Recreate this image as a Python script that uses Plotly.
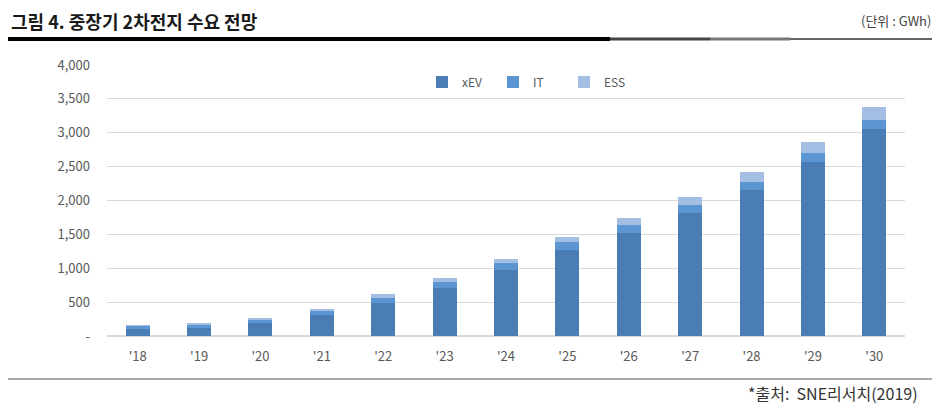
import plotly.graph_objects as go

years = ["'18", "'19", "'20", "'21", "'22", "'23", "'24", "'25", "'26", "'27", "'28", "'29", "'30"]
xev = [100, 120, 190, 305, 483, 704, 974, 1269, 1525, 1811, 2155, 2573, 3050]
it = [48, 50, 55, 60, 74, 89, 98, 123, 113, 123, 123, 124, 145]
ess = [14, 17, 25, 30, 59, 59, 64, 74, 99, 123, 143, 162, 190]
y_ticks = [0, 500, 1000, 1500, 2000, 2500, 3000, 3500, 4000]
y_tick_text = ["-", "500", "1,000", "1,500", "2,000", "2,500", "3,000", "3,500", "4,000"]

# page body has an 8px margin; figure drawn at (8,8)
OFF = 8
W, H = 940 - OFF, 405 - OFF
ML, MR, MT, MB = 107 - OFF, 35, 65 - OFF, 69
PW, PH = W - ML - MR, H - MT - MB

def px(x):
    # reference window pixel -> paper coordinate
    return (x - OFF - ML) / PW

def py(y):
    return (H - MB - (y - OFF)) / PH

FONT = "Noto Sans CJK KR"

fig = go.Figure()
fig.add_bar(x=years, y=xev, name="xEV", marker=dict(color="#4a7db4", line=dict(width=0)))
fig.add_bar(x=years, y=it, name="IT", marker=dict(color="#5b95d2", line=dict(width=0)))
fig.add_bar(x=years, y=ess, name="ESS", marker=dict(color="#a3bde3", line=dict(width=0)))

fig.update_layout(
    width=W, height=H,
    margin=dict(l=ML, r=MR, t=MT, b=MB),
    barmode="stack", bargap=0.61,
    plot_bgcolor="white", paper_bgcolor="white",
    font=dict(family=FONT, size=12, color="#595959"),
    showlegend=True,
    legend=dict(orientation="h", x=px(422), y=py(82), xanchor="left", yanchor="middle",
                font=dict(size=12, color="#595959"), itemwidth=30, entrywidth=26,
                bgcolor="rgba(0,0,0,0)", traceorder="normal"),
    xaxis=dict(showgrid=False, showline=False, ticks="", ticklabelstandoff=11,
               tickfont=dict(size=13, color="#595959")),
    yaxis=dict(range=[0, 4000], tickvals=y_ticks, ticktext=y_tick_text, showgrid=True,
               gridcolor="#d9d9d9", gridwidth=1, zeroline=True, zerolinecolor="#d9d9d9",
               showline=False, ticks="", ticklabelstandoff=16, tickfont=dict(size=13, color="#595959")),
)

fig.add_annotation(text="<b>그림 4. 중장기 2차전지 수요 전망</b>", xref="paper", yref="paper",
                   x=px(9), y=py(21), xanchor="left", yanchor="middle", showarrow=False,
                   font=dict(family=FONT, size=18, color="#1a1a1a"))
fig.add_annotation(text="(단위 : GWh)", xref="paper", yref="paper",
                   x=px(933), y=py(20), xanchor="right", yanchor="middle", showarrow=False,
                   font=dict(family=FONT, size=13, color="#444444"))
fig.add_annotation(text="*출처:  SNE리서치(2019)", xref="paper", yref="paper",
                   x=px(920), y=py(393), xanchor="right", yanchor="middle", showarrow=False,
                   font=dict(family=FONT, size=16, color="#333333"))

# header rule
fig.add_shape(type="rect", xref="paper", yref="paper", x0=px(8), x1=px(610), y0=py(37), y1=py(41),
              fillcolor="#000000", line=dict(width=0))
fig.add_shape(type="rect", xref="paper", yref="paper", x0=px(610), x1=px(710), y0=py(37.5), y1=py(40.5),
              fillcolor="#444444", line=dict(width=0))
fig.add_shape(type="rect", xref="paper", yref="paper", x0=px(710), x1=px(790), y0=py(37.5), y1=py(40.5),
              fillcolor="#777777", line=dict(width=0))
fig.add_shape(type="line", xref="paper", yref="paper", x0=px(790), x1=px(935), y0=py(39), y1=py(39),
              line=dict(color="#333333", width=1.5))
# footer rule
fig.add_shape(type="line", xref="paper", yref="paper", x0=px(8), x1=px(935), y0=py(379), y1=py(379),
              line=dict(color="#8c8c8c", width=1.5))

fig.write_html("out.html")
